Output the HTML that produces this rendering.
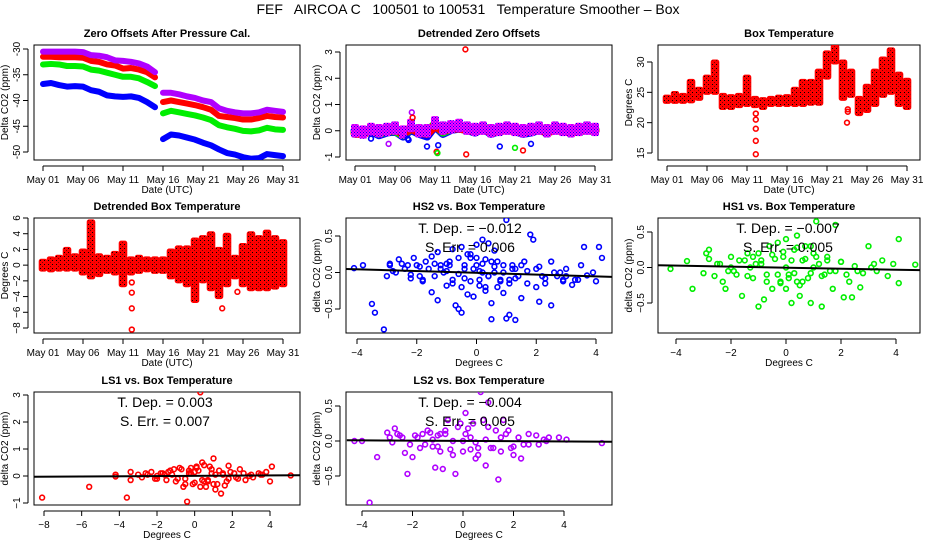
<!DOCTYPE html>
<html><head><meta charset="utf-8">
<style>
body{margin:0;background:#fff;}
svg{display:block;font-family:"Liberation Sans",sans-serif;}
.tt{font-weight:bold;font-size:11px;}
.tk{font-size:10px;}
</style></head>
<body>
<svg id="c" width="936" height="540" viewBox="0 0 936 540">
<defs>
<pattern id="redtex" width="4" height="4" patternUnits="userSpaceOnUse"><rect width="4" height="4" fill="#ff0000"/><rect width="1" height="1" fill="#000"/><rect x="2" y="2" width="1" height="1" fill="#700"/></pattern>
<pattern id="purtex" width="3" height="3" patternUnits="userSpaceOnUse"><rect width="3" height="3" fill="#ff00ff"/><rect width="1" height="1" fill="#0000ff"/><rect x="1.5" y="1.5" width="1" height="1" fill="#0000ff"/></pattern>
</defs>
<rect width="936" height="540" fill="#fff"/>
<text x="468" y="14" text-anchor="middle" font-size="14" xml:space="preserve">FEF   AIRCOA C   100501 to 100531   Temperature Smoother – Box</text>
</svg>
<script>
// ---------- data ----------
const days = [1,2,3,4,5,6,7,8,9,10,11,12,13,14,15,16,17,18,19,20,21,22,23,24,25,26,27,28,29,30,31];
const dateTicks = [1,6,11,16,21,26,31];
const dateLabels = ["May 01","May 06","May 11","May 16","May 21","May 26","May 31"];
const zoPurple = [-30.5,-30.5,-30.5,-30.5,-30.5,-30.6,-31.2,-31.3,-31.6,-32.2,-32.3,-32.5,-32.8,-33.4,-34.5,-38.5,-38.5,-38.8,-39.2,-39.5,-40.0,-40.3,-41.5,-42.0,-42.3,-42.5,-42.5,-42.3,-41.8,-42.0,-42.2];
const zoRed = [-31.5,-31.5,-31.6,-31.6,-31.6,-31.7,-32.3,-32.5,-33.0,-33.2,-33.8,-33.7,-34.0,-34.5,-35.5,-40.3,-40.0,-40.3,-40.6,-40.9,-41.3,-41.8,-43.0,-43.2,-43.4,-43.7,-43.7,-43.4,-43.0,-43.2,-43.3];
const zoGreen = [-33.0,-32.9,-33.0,-33.3,-33.3,-33.4,-34.0,-34.2,-34.6,-35.0,-35.4,-35.4,-35.7,-36.4,-37.2,-42.5,-42.0,-42.3,-42.6,-42.9,-43.3,-43.8,-44.8,-45.2,-45.5,-45.9,-46.0,-45.8,-45.3,-45.6,-45.7];
const zoBlue = [-36.8,-36.6,-37.0,-37.3,-37.2,-37.3,-38.0,-38.3,-39.0,-39.2,-39.3,-39.2,-39.5,-40.3,-41.3,-47.5,-46.6,-46.8,-47.2,-47.6,-48.2,-48.7,-49.5,-50.2,-50.5,-51.0,-51.3,-51.2,-50.4,-50.6,-50.8];
const zoBreak = 15;
const dzPurple = [0.0,-0.05,0.05,0.0,0.05,0.1,-0.05,0.2,0.0,0.0,0.3,0.1,0.15,0.2,0.1,0.05,0.1,0.0,0.05,0.1,0.05,0.0,0.05,0.1,0.0,0.1,0.05,0.0,0.05,0.1,0.05];
const dzRed = [-0.1,-0.1,0.0,-0.05,0.0,0.05,-0.1,0.1,-0.05,-0.1,0.2,0.0,0.1,0.1,0.05,0.0,0.1,-0.05,0.0,0.05,0.0,-0.05,0.0,0.05,-0.05,0.05,0.0,-0.05,0.0,0.05,0.0];
const dzGreen = [-0.05,-0.1,0.05,-0.1,0.0,0.0,-0.15,0.1,0.0,-0.1,0.25,-0.05,0.1,0.15,0.1,0.0,0.15,-0.05,0.05,0.1,0.05,0.0,0.0,0.1,0.0,0.1,0.05,0.0,0.0,0.1,0.05];
const dzBlue = [0.0,-0.1,0.0,-0.15,-0.05,0.0,-0.2,0.05,-0.1,-0.2,0.2,-0.1,0.05,0.1,0.05,-0.05,0.1,-0.1,0.0,0.05,0.0,-0.1,-0.05,0.05,-0.05,0.05,0.0,-0.05,0.0,0.05,0.0];
const dzOutX = [3.0,5.2,8.1,8.2,10.0,11.2,11.3,11.4,14.8,14.9,19.1,21.0,22.0,23.0,7.6,7.7];
const dzOutY = [-0.3,-0.5,0.7,0.5,-0.6,-0.8,-0.85,-0.55,3.1,-0.9,-0.6,-0.65,-0.75,-0.5,-0.3,-0.35];
const dzOutC = ["b","p","p","r","b","r","g","b","r","r","b","g","r","b","b","b"];
const btLo = [23.5,23.5,23.5,23.6,24.0,25.0,25.0,22.5,22.5,22.8,23.0,22.8,22.5,23.0,23.0,23.0,23.0,23.0,23.2,23.2,27.5,30.0,24.0,24.5,21.5,22.0,23.0,24.5,25.0,23.0,22.5];
const btHi = [24.2,24.8,24.5,26.8,25.5,27.5,30.0,24.5,24.3,24.5,27.5,24.0,23.8,24.0,24.2,24.3,25.5,26.8,26.8,28.5,31.5,32.5,30.0,28.5,24.0,26.0,28.5,30.5,32.0,28.0,27.0];
const btOutX = [12.1,12.1,12.1,12.1,12.1,23.6,23.6,23.5];
const btOutY = [21.5,20.5,19.0,17.0,14.8,22.2,21.8,20.0];
const dbLo = [-0.5,-0.6,-0.5,-0.5,-0.5,-1.0,-1.5,-1.2,-0.8,-1.0,-2.5,-1.0,-0.8,-0.6,-0.8,-0.8,-1.5,-2.0,-2.5,-4.5,-2.0,-3.0,-4.0,-2.5,-1.5,-2.5,-3.0,-3.0,-3.0,-2.8,-2.5];
const dbHi = [0.5,0.8,1.0,2.0,1.2,1.8,5.5,1.2,1.0,1.5,2.8,0.8,1.0,0.8,0.8,0.8,1.8,2.2,2.2,3.2,3.5,4.0,2.0,3.8,1.0,2.5,4.0,3.5,4.2,3.5,3.0];
const dbOutX = [12.1,12.1,12.1,12.1,23.4,25.3];
const dbOutY = [-2.2,-3.5,-5.5,-8.2,-5.5,-3.4];
const hs2X = [-4.1,-3.8,-3.5,-3.4,-3.1,-3.0,-2.9,-2.8,-2.6,-2.4,-2.2,-2.1,-2.0,-1.8,-1.5,-1.5,-1.3,-1.3,-1.2,-1.0,-0.9,-0.8,-0.7,-0.6,-0.5,-0.5,-0.4,-0.3,-0.2,-0.1,0.0,0.1,0.2,0.3,0.4,0.5,0.5,0.6,0.7,0.8,0.9,1.0,1.0,1.1,1.2,1.3,1.5,1.6,1.8,1.9,2.0,2.1,2.3,2.5,2.5,2.7,2.9,3.0,3.2,3.5,3.6,3.9,4.0,4.1,4.2,-2.7,-2.3,-1.9,-1.6,-1.1,-0.8,-0.4,-0.2,0.0,0.2,0.4,0.6,0.9,1.3,1.7,2.2,2.8,3.3,-1.4,-0.6,0.3,1.1,-0.9,0.1,0.8,
 -2.5,-2.2,-1.9,-1.7,-1.4,-1.2,-1.0,-0.8,-0.6,-0.4,-0.3,-0.1,0.1,0.2,0.4,0.5,0.7,0.9,1.1,1.3,1.5,1.7,2.0,2.3,2.6,3.0,3.4,3.7,-1.8,-1.0,-0.5,0.0,0.6,1.2,2.1,2.9,-2.9,-0.2,0.3,1.4];
const hs2Y = [0.06,0.1,-0.43,-0.55,-0.78,-0.05,0.12,0.02,0.18,0.05,-0.08,0.2,0.1,-0.1,0.22,-0.27,0.28,-0.38,0.05,-0.18,0.15,0.32,-0.45,-0.5,-0.55,0.35,0.1,-0.3,0.2,-0.33,0.38,-0.1,0.45,-0.2,0.4,-0.42,-0.64,0.3,0.15,-0.12,-0.28,0.72,-0.63,-0.58,0.05,-0.65,-0.35,0.15,0.52,0.45,-0.2,-0.4,-0.15,-0.45,0.15,-0.05,-0.1,0.05,-0.17,0.1,0.35,0.0,-0.12,0.35,0.2,0.0,0.1,-0.05,0.05,0.0,-0.1,0.05,-0.12,0.1,0.0,-0.05,0.08,0.0,-0.08,0.02,-0.05,0.0,-0.1,0.12,-0.02,0.18,-0.15,0.1,0.02,-0.1,
 0.12,-0.03,0.08,0.15,-0.05,0.1,0.02,-0.15,0.2,-0.08,0.25,0.05,-0.18,0.12,-0.05,0.15,-0.2,0.1,-0.1,0.05,0.1,-0.15,0.05,-0.08,0.0,-0.05,-0.1,-0.04,-0.12,0.12,-0.2,0.2,0.0,0.1,0.08,-0.12,0.1,0.25,-0.25,-0.05];
const hs1X = [-5.5,-4.2,-3.6,-3.4,-3.0,-2.9,-2.8,-2.6,-2.3,-2.2,-2.0,-1.8,-1.6,-1.4,-1.2,-1.0,-0.9,-0.8,-0.6,-0.5,-0.3,-0.2,0.0,0.1,0.2,0.3,0.4,0.5,0.7,0.9,1.0,1.1,1.3,1.5,1.7,1.8,2.1,2.3,2.4,2.7,3.0,3.2,3.5,3.9,4.1,4.1,4.7,-2.5,-1.9,-1.5,-1.1,-0.7,-0.4,0.0,0.3,0.6,0.8,1.2,1.6,2.0,2.6,3.1,-0.1,0.4,-1.3,1.4,
 -2.8,-2.4,-2.1,-1.7,-1.4,-1.2,-0.9,-0.7,-0.5,-0.3,-0.1,0.1,0.2,0.4,0.5,0.7,0.9,1.1,1.3,1.5,1.8,2.2,2.5,2.8,3.3,3.7,-1.0,-0.2,0.6,1.0,2.0,-2.0,0.0,0.9];
const hs1Y = [-0.88,-0.02,0.09,-0.3,-0.08,0.2,0.25,-0.12,-0.2,-0.3,0.15,-0.1,-0.4,0.2,-0.15,-0.55,0.1,-0.45,0.3,-0.3,0.35,-0.2,0.4,-0.1,-0.5,0.25,0.45,-0.4,0.3,-0.5,0.0,0.65,-0.55,0.15,-0.3,0.6,-0.42,-0.2,-0.42,-0.28,0.3,0.05,0.1,0.05,0.4,-0.22,0.04,0.05,-0.05,0.1,0.05,-0.1,0.12,0.0,-0.08,0.1,-0.15,0.05,-0.05,0.08,-0.05,0.0,0.15,-0.2,0.0,-0.1,
 0.12,0.05,-0.05,0.1,-0.12,0.15,0.05,-0.2,0.18,-0.1,0.22,-0.15,0.1,0.28,-0.25,0.12,-0.08,0.15,-0.12,0.1,-0.05,-0.1,0.02,-0.08,-0.05,-0.12,0.2,-0.22,-0.2,0.2,0.08,0.0,-0.3,0.3];
const ls1X = [-8.1,-5.6,-4.2,-4.2,-3.6,-3.4,-3.4,-3.0,-2.6,-2.3,-2.0,-1.7,-1.4,-1.1,-0.8,-0.6,-0.4,-0.3,-0.1,0.1,0.3,0.4,0.6,0.8,1.0,1.1,1.2,1.4,1.6,1.8,2.1,2.4,2.7,3.0,3.4,3.8,4.0,4.1,5.1,-2.0,-1.2,-0.5,0.0,0.5,0.9,1.5,2.2,2.9,3.6,-0.2,0.7,
 -2.8,-2.5,-2.1,-1.8,-1.5,-1.3,-1.0,-0.7,-0.5,-0.2,0.0,0.2,0.3,0.5,0.7,0.9,1.0,1.3,1.5,1.7,1.9,2.3,2.6,3.1,3.5,-0.9,-0.3,0.4,1.1,1.8,-1.6,0.1];
const ls1Y = [-0.8,-0.4,0.05,-0.02,-0.8,0.15,-0.15,0.05,0.1,0.15,-0.1,0.1,0.15,0.25,0.3,-0.4,-0.95,0.2,-0.3,0.3,3.1,0.5,-0.4,0.35,0.65,-0.5,-0.3,-0.65,-0.35,0.38,0.1,0.25,-0.15,0.05,0.1,0.15,-0.2,0.35,0.02,0.0,0.05,-0.1,0.15,-0.2,0.1,0.05,-0.05,0.0,0.05,0.1,-0.15,
 -0.05,0.05,-0.1,0.1,-0.15,0.2,-0.2,0.25,-0.3,0.3,-0.25,0.2,-0.4,0.4,-0.2,0.25,-0.3,0.2,0.1,-0.2,0.15,-0.1,0.1,-0.05,0.05,-0.1,0.1,-0.15,0.05,-0.1,0.05,0.35];
const ls2X = [-4.3,-4.0,-3.7,-3.4,-3.0,-2.8,-2.7,-2.5,-2.3,-2.2,-2.0,-1.8,-1.6,-1.4,-1.2,-1.1,-0.9,-0.8,-0.6,-0.4,-0.3,-0.1,0.1,0.3,0.5,0.7,0.9,1.0,1.2,1.4,1.6,1.8,2.0,2.3,2.6,3.0,3.4,3.8,4.1,5.5,-2.4,-1.5,-0.7,0.0,0.6,1.5,2.4,3.2,-1.0,0.3,
 -2.9,-2.6,-2.1,-1.9,-1.7,-1.3,-1.0,-0.7,-0.5,-0.2,0.0,0.2,0.4,0.6,0.8,1.1,1.3,1.5,1.7,2.0,2.2,2.6,2.9,3.3,-1.2,-0.4,0.5,1.0,1.9,-0.9,0.1,0.9];
const ls2Y = [0.0,0.0,-0.88,-0.23,0.12,-0.02,0.18,0.08,-0.17,-0.47,-0.23,0.05,0.1,0.15,-0.08,-0.38,0.1,-0.4,0.3,-0.2,-0.47,0.25,0.4,0.05,-0.25,0.7,-0.35,0.55,-0.1,-0.55,0.3,0.15,-0.2,-0.25,0.1,-0.05,0.05,0.05,0.02,-0.03,0.05,-0.05,0.1,0.0,-0.1,0.05,-0.05,0.02,0.08,-0.12,
 0.05,0.1,-0.05,0.08,-0.1,0.12,-0.08,0.15,-0.12,0.2,-0.15,0.18,0.25,-0.2,0.3,-0.1,0.15,-0.15,0.1,-0.08,0.05,-0.05,0.08,0.0,0.02,0.0,-0.02,0.2,-0.1,-0.15,0.1,0.02];

// ---------- drawing ----------
const NS="http://www.w3.org/2000/svg";
const svg=document.getElementById('c');
function el(tag,attrs,parent){const e=document.createElementNS(NS,tag);for(const k in attrs)e.setAttribute(k,attrs[k]);(parent||svg).appendChild(e);return e;}
const COL={r:"#ff0000",g:"#00ee00",b:"#0000ff",p:"#b000ff"};

function makePanel(o){
  const g=el('g',{});
  
  
  const sx=v=>o.x0+(v-o.xa)*(o.x1-o.x0)/(o.xb-o.xa);
  const sy=v=>o.y0+(v-o.ya)*(o.y1-o.y0)/(o.yb-o.ya);
  const t=el('text',{x:(o.L+o.R)/2,y:o.T-8,'text-anchor':'middle',class:'tt'},g);t.textContent=o.title;
  
  
  const box=el('rect',{x:o.L,y:o.T,width:o.R-o.L,height:o.B-o.T,fill:'none',stroke:'#000','stroke-width':1},g);
  
  
  const xa=el('g',{},g);
  
  
  el('line',{x1:sx(o.xt[0]),x2:sx(o.xt[o.xt.length-1]),y1:o.B+6,y2:o.B+6,stroke:'#000'},xa);
  o.xt.forEach((v,i)=>{el('line',{x1:sx(v),x2:sx(v),y1:o.B+6,y2:o.B+11,stroke:'#000'},xa);
    const tx=el('text',{x:sx(v),y:o.B+23,'text-anchor':'middle',class:'tk'},xa);tx.textContent=o.xl[i];
    
    });
  const xt=el('text',{x:(o.L+o.R)/2,y:o.B+33,'text-anchor':'middle',class:'tk'},g);xt.textContent=o.xlab;
  
  
  const ya=el('g',{},g);
  
  
  el('line',{x1:o.L-6,x2:o.L-6,y1:sy(o.yt[0]),y2:sy(o.yt[o.yt.length-1]),stroke:'#000'},ya);
  o.yt.forEach((v,i)=>{el('line',{x1:o.L-11,x2:o.L-6,y1:sy(v),y2:sy(v),stroke:'#000'},ya);
    const X=o.L-14,Y=sy(v);
    const ty=el('text',{x:X,y:Y,'text-anchor':'middle',class:'tk',transform:`rotate(-90 ${X} ${Y})`},ya);ty.textContent=o.yl[i];
    
    });
  const Xl=o.L-26,Yl=(o.T+o.B)/2;
  const yt=el('text',{x:Xl,y:Yl,'text-anchor':'middle',class:'tk',transform:`rotate(-90 ${Xl} ${Yl})`},g);yt.textContent=o.ylab;
  
  
  const clip='clip'+o.name;
  const cp=el('clipPath',{id:clip},g);el('rect',{x:o.L,y:o.T,width:o.R-o.L,height:o.B-o.T},cp);
  const d=el('g',{'clip-path':`url(#${clip})`},g);
  
  
  return {g,d,sx,sy};
}
function pts(p,xs,ys,c,name,r){
  xs.forEach((x,i)=>{const e=el('circle',{cx:p.sx(x),cy:p.sy(ys[i]),r:r||2.4,fill:'none',stroke:c,'stroke-width':1.6},p.d);
    
    });
}
function band(p,xs,lo,hi,fill,stroke,name,wd){
  const w=wd||0.95;
  xs.forEach((x,i)=>{
    const x0=p.sx(x-w/2),x1=p.sx(x+w/2),ya=p.sy(hi[i]),yb=p.sy(lo[i]);
    const e=el('rect',{x:x0,y:Math.min(ya,yb)-2,width:x1-x0,height:Math.abs(yb-ya)+4,fill:fill,stroke:stroke,'stroke-width':1,rx:2},p.d);
    
    
  });
}
function line(p,xs,ys,c,name,w){
  const s=xs.map((x,i)=>`${p.sx(x)},${p.sy(ys[i])}`).join(' ');
  const e=el('polyline',{points:s,fill:'none',stroke:c,'stroke-width':w||6,'stroke-linejoin':'round','stroke-linecap':'round'},p.d);
  
  
}
function note(p,cx,y1,a,b){
  const t1=el('text',{x:cx,y:y1,'text-anchor':'middle','font-size':14,'xml:space':'preserve'},p.g);t1.textContent=a;
  
  
  const t2=el('text',{x:cx,y:y1+19,'text-anchor':'middle','font-size':14,'xml:space':'preserve'},p.g);t2.textContent=b;
  
  
}
function reg(p,xa,ya,xb,yb,name){
  const e=el('line',{x1:p.sx(xa),y1:p.sy(ya),x2:p.sx(xb),y2:p.sy(yb),stroke:'#000','stroke-width':2},p.d);
  
  
}
const dateX=(L)=>({xa:1,xb:31,x0:L+9,x1:L+249,xt:dateTicks,xl:dateLabels,xlab:'Date (UTC)'});

// Panel 1
let p=makePanel(Object.assign({name:'zero-offsets-panel',title:'Zero Offsets After Pressure Cal.',L:34,R:300,T:45,B:160,
  ya:-30,yb:-50,y0:49,y1:152,yt:[-30,-35,-40,-45,-50],yl:['-30','-35','-40','-45','-50'],ylab:'Delta CO2 (ppm)'},dateX(34)));
[[zoBlue,'b'],[zoGreen,'g'],[zoRed,'r'],[zoPurple,'p']].forEach(([arr,c])=>{
  line(p,days.slice(0,zoBreak),arr.slice(0,zoBreak),COL[c],'zero-offset-series-'+c);
  line(p,days.slice(zoBreak),arr.slice(zoBreak),COL[c],'zero-offset-series-'+c);
});
// Panel 2
p=makePanel(Object.assign({name:'detrended-zero-offsets-panel',title:'Detrended Zero Offsets',L:346,R:612,T:45,B:160,
  ya:3,yb:-1,y0:52,y1:157,yt:[3,2,1,0,-1],yl:['3','2','1','0','-1'],ylab:'Delta CO2 (ppm)'},dateX(346)));
[[dzBlue,'b'],[dzGreen,'g'],[dzRed,'r']].forEach(([arr,c])=>line(p,days,arr,COL[c],'detrended-series-'+c,9));
band(p,days,dzPurple.map(v=>v-0.18),dzPurple.map(v=>v+0.18),'url(#purtex)','none','detrended-series-p',1.0);
dzOutX.forEach((x,i)=>pts(p,[x],[dzOutY[i]],COL[dzOutC[i]],'detrended-outlier'));
// Panel 3
p=makePanel(Object.assign({name:'box-temperature-panel',title:'Box Temperature',L:658,R:920,T:45,B:160,
  ya:30,yb:15,y0:62,y1:153,yt:[15,20,25,30],yl:['15','20','25','30'],ylab:'Degrees C'},dateX(658)));
band(p,days,btLo,btHi,'url(#redtex)','#ff0000','box-temp-series');
pts(p,btOutX,btOutY,COL.r,'box-temp-outlier');
// Panel 4
p=makePanel(Object.assign({name:'detrended-box-temp-panel',title:'Detrended Box Temperature',L:34,R:300,T:218,B:333,
  ya:6,yb:-8,y0:218,y1:328,yt:[6,4,2,0,-2,-4,-6,-8],yl:['6','4','2','0','−2','−4','−6','−8'],ylab:'Degrees C'},dateX(34)));
band(p,days,dbLo,dbHi,'url(#redtex)','#ff0000','detrended-box-temp-series');
pts(p,dbOutX,dbOutY,COL.r,'detrended-box-temp-outlier');
// Panel 5 HS2
p=makePanel({name:'hs2-panel',title:'HS2 vs. Box Temperature',L:346,R:612,T:218,B:333,
  xa:-4,xb:4,x0:357,x1:596,xt:[-4,-2,0,2,4],xl:['−4','−2','0','2','4'],xlab:'Degrees C',
  ya:0.5,yb:-0.5,y0:236,y1:309,yt:[-0.5,0,0.5],yl:['−0.5','0.0','0.5'],ylab:'delta CO2 (ppm)'});
pts(p,hs2X,hs2Y,COL.b,'hs2-point');
reg(p,-4.5,0.05,4.6,-0.06,'hs2-regression-line');
note(p,470,233,'T. Dep. =  −0.012','S. Err. =  0.006');
// Panel 6 HS1
p=makePanel({name:'hs1-panel',title:'HS1 vs. Box Temperature',L:658,R:920,T:218,B:333,
  xa:-4,xb:4,x0:676,x1:896,xt:[-4,-2,0,2,4],xl:['−4','−2','0','2','4'],xlab:'Degrees C',
  ya:0.5,yb:-0.5,y0:232,y1:303,yt:[-0.5,0,0.5],yl:['−0.5','0.0','0.5'],ylab:'delta CO2 (ppm)'});
pts(p,hs1X,hs1Y,COL.g,'hs1-point');
reg(p,-5.8,0.04,5.2,-0.04,'hs1-regression-line');
note(p,788,233,'T. Dep. =  −0.007','S. Err. =  0.005');
// Panel 7 LS1
p=makePanel({name:'ls1-panel',title:'LS1 vs. Box Temperature',L:34,R:300,T:392,B:505,
  xa:-8,xb:4,x0:44,x1:270,xt:[-8,-6,-4,-2,0,2,4],xl:['−8','−6','−4','−2','0','2','4'],xlab:'Degrees C',
  ya:3,yb:-1,y0:395,y1:503,yt:[-1,0,1,2,3],yl:['−1','0','1','2','3'],ylab:'delta CO2 (ppm)'});
pts(p,ls1X,ls1Y,COL.r,'ls1-point');
reg(p,-8.6,-0.03,5.6,0.03,'ls1-regression-line');
note(p,165,407,'T. Dep. =  0.003','S. Err. =  0.007');
// Panel 8 LS2
p=makePanel({name:'ls2-panel',title:'LS2 vs. Box Temperature',L:346,R:612,T:392,B:505,
  xa:-4,xb:4,x0:362,x1:564,xt:[-4,-2,0,2,4],xl:['−4','−2','0','2','4'],xlab:'Degrees C',
  ya:0.5,yb:-0.5,y0:406,y1:476,yt:[-0.5,0,0.5],yl:['−0.5','0.0','0.5'],ylab:'delta CO2 (ppm)'});
pts(p,ls2X,ls2Y,COL.p,'ls2-point');
reg(p,-4.6,0.01,5.9,-0.01,'ls2-regression-line');
note(p,470,407,'T. Dep. =  −0.004','S. Err. =  0.005');
</script>
</body></html>
